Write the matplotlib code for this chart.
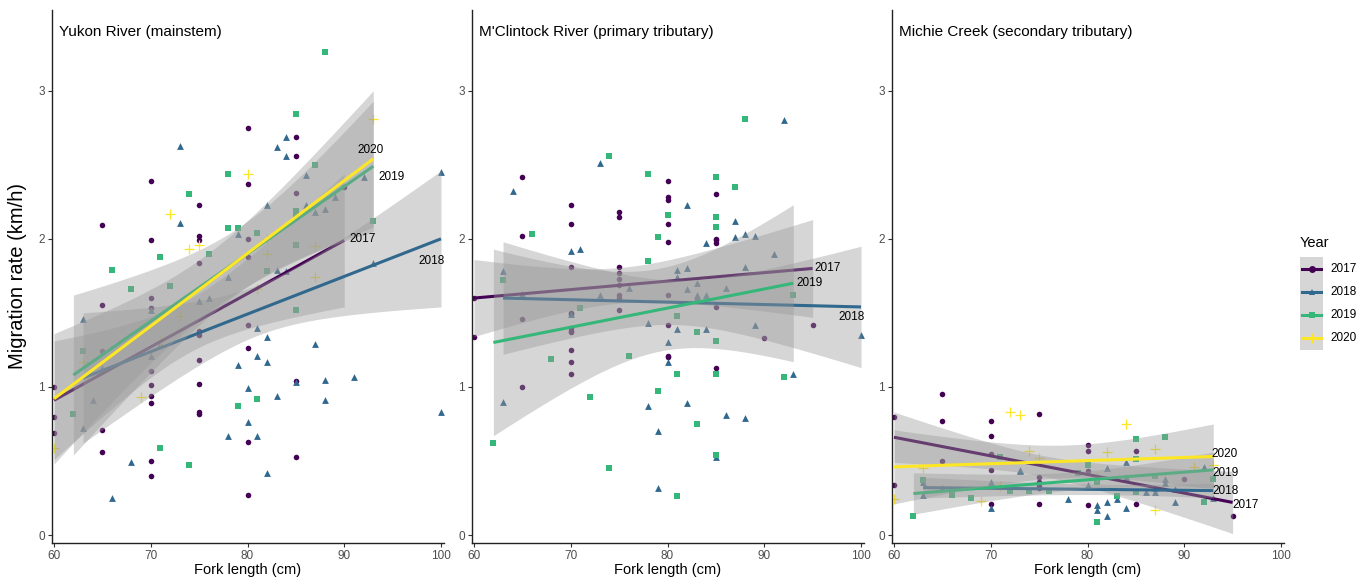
import numpy as np
import matplotlib
matplotlib.use("Agg")
import matplotlib.pyplot as plt

plt.rcParams['font.family'] = ['Liberation Sans', 'DejaVu Sans']

years = ["2017", "2018", "2019", "2020"]
colors = ["#440154", "#31688E", "#35B779", "#FDE725"]
markers = ["o", "^", "s", "+"]
panel_titles = ["Yukon River (mainstem)", "M'Clintock River (primary tributary)",
                "Michie Creek (secondary tributary)"]
x_ticks = [60, 70, 80, 90, 100]
y_ticks = [0, 1, 2, 3]

# ---------------- Yukon River ----------------
yukon_2017_x = [80, 85, 85, 70, 80, 90, 85, 75, 65, 70, 75, 75, 80, 75, 80, 65, 70, 70, 75, 75,
                80, 65, 80, 75, 70, 85, 60, 70, 75, 70, 70, 75, 75, 60, 65, 60, 80, 65, 85, 70, 70, 80]
yukon_2017_y = [2.75, 2.69, 2.56, 2.39, 2.37, 2.35, 2.31, 2.23, 2.09, 1.99, 2.02, 1.99, 2.00, 1.84, 1.88,
                1.55, 1.60, 1.53, 1.38, 1.35, 1.42, 1.24, 1.26, 1.18, 1.11, 1.04, 1.00, 1.01, 1.02, 0.94,
                0.89, 0.83, 0.82, 0.80, 0.71, 0.69, 0.63, 0.56, 0.53, 0.50, 0.40, 0.27]
yukon_2018_x = [73, 84, 83, 84, 86, 92, 82, 86, 89, 87, 88, 73, 79, 93, 100, 83, 84, 78, 75, 76,
                70, 63, 81, 82, 71, 70, 81, 82, 79, 87, 65, 91, 88, 85, 80, 64, 83, 88, 100, 80,
                63, 78, 81, 68, 82, 66]
yukon_2018_y = [2.63, 2.69, 2.62, 2.56, 2.43, 2.42, 2.23, 2.23, 2.28, 2.18, 2.20, 2.11, 2.03, 1.84, 2.45,
                1.79, 1.78, 1.74, 1.58, 1.60, 1.52, 1.46, 1.40, 1.34, 1.29, 1.21, 1.21, 1.17, 1.15, 1.29,
                1.13, 1.07, 1.05, 1.03, 0.99, 0.91, 0.94, 0.91, 0.83, 0.76, 0.72, 0.67, 0.67, 0.49, 0.42,
                0.25]
yukon_2019_x = [88, 85, 87, 78, 74, 85, 85, 93, 78, 79, 81, 76, 71, 85, 66, 82, 68, 72, 85, 63,
                81, 79, 62, 71, 74]
yukon_2019_y = [3.26, 2.84, 2.50, 2.44, 2.30, 2.19, 2.17, 2.12, 2.07, 2.07, 2.04, 1.90, 1.88, 1.96, 1.79,
                1.78, 1.66, 1.68, 1.52, 1.24, 0.92, 0.87, 0.82, 0.59, 0.47]
yukon_2020_x = [93, 80, 72, 75, 74, 82, 87, 82, 87, 81, 73, 71, 63, 69, 60]
yukon_2020_y = [2.81, 2.44, 2.17, 1.96, 1.93, 2.00, 1.95, 1.90, 1.74, 1.66, 1.48, 1.31, 1.17, 0.93, 0.59]

# ---------------- M'Clintock River ----------------
mcl_2017_x = [65, 80, 85, 80, 80, 70, 75, 75, 80, 70, 65, 80, 85, 85, 85, 70, 75, 75, 75, 75,
              60, 65, 75, 75, 75, 85, 70, 70, 65, 95, 60, 80, 80, 70, 70, 70, 90, 70, 80, 80,
              70, 85, 70, 65]
mcl_2017_y = [2.42, 2.39, 2.30, 2.28, 2.26, 2.23, 2.18, 2.15, 2.10, 2.10, 2.02, 1.98, 2.00, 1.99, 1.97,
              1.81, 1.81, 1.77, 1.73, 1.69, 1.60, 1.62, 1.62, 1.60, 1.52, 1.54, 1.50, 1.49, 1.46, 1.42,
              1.34, 1.42, 1.62, 1.40, 1.38, 1.37, 1.33, 1.25, 1.21, 1.20, 1.17, 1.13, 1.09, 1.00]
mcl_2018_x = [92, 73, 64, 82, 87, 88, 89, 87, 84, 70, 71, 91, 88, 81, 82, 81, 83, 63, 76, 82,
              86, 65, 73, 83, 83, 84, 70, 78, 89, 81, 84, 100, 80, 80, 93, 63, 78, 82, 86, 88,
              79, 85, 79]
mcl_2018_y = [2.80, 2.51, 2.32, 2.23, 2.12, 2.03, 2.02, 2.01, 1.97, 1.92, 1.93, 1.90, 1.81, 1.79, 1.80,
              1.74, 1.70, 1.78, 1.67, 1.66, 1.67, 1.63, 1.62, 1.62, 1.61, 1.62, 1.49, 1.43, 1.42, 1.39,
              1.39, 1.35, 1.30, 1.17, 1.09, 0.90, 0.87, 0.89, 0.81, 0.79, 0.70, 0.53, 0.32]
mcl_2019_x = [88, 74, 78, 85, 87, 80, 85, 85, 66, 79, 78, 63, 93, 71, 81, 83, 85, 68, 76, 81,
              85, 92, 79, 72, 83, 62, 85, 74, 81]
mcl_2019_y = [2.81, 2.56, 2.44, 2.42, 2.35, 2.16, 2.15, 2.08, 2.03, 2.01, 1.85, 1.72, 1.62, 1.53, 1.48,
              1.37, 1.31, 1.19, 1.21, 1.09, 1.09, 1.07, 0.97, 0.93, 0.75, 0.62, 0.54, 0.45, 0.26]

# ---------------- Michie Creek ----------------
mic_2017_x = [65, 60, 65, 70, 75, 70, 80, 80, 85, 70, 65, 70, 80, 75, 90, 60, 75, 75, 75, 75,
              70, 80, 85, 95]
mic_2017_y = [0.95, 0.80, 0.77, 0.77, 0.82, 0.67, 0.61, 0.57, 0.57, 0.55, 0.50, 0.44, 0.43, 0.39, 0.38,
              0.34, 0.36, 0.33, 0.32, 0.21, 0.21, 0.20, 0.21, 0.13]
mic_2018_x = [73, 73, 82, 84, 92, 88, 88, 84, 63, 70, 80, 65, 87, 87, 89, 86, 63, 83, 93, 78,
              82, 89, 70, 81, 81, 84, 82]
mic_2018_y = [0.44, 0.43, 0.45, 0.49, 0.46, 0.38, 0.35, 0.39, 0.36, 0.36, 0.34, 0.32, 0.32, 0.29, 0.31,
              0.29, 0.27, 0.24, 0.25, 0.24, 0.22, 0.22, 0.18, 0.20, 0.17, 0.18, 0.13]
mic_2019_x = [85, 88, 71, 85, 80, 79, 87, 93, 63, 81, 72, 74, 76, 85, 66, 83, 68, 92, 62, 81]
mic_2019_y = [0.65, 0.66, 0.53, 0.51, 0.47, 0.42, 0.40, 0.38, 0.37, 0.36, 0.30, 0.30, 0.30, 0.29, 0.27,
              0.26, 0.25, 0.22, 0.13, 0.09]
mic_2020_x = [72, 73, 84, 74, 82, 87, 75, 63, 91, 93, 81, 71, 60, 69, 87]
mic_2020_y = [0.83, 0.81, 0.75, 0.57, 0.56, 0.58, 0.52, 0.45, 0.46, 0.47, 0.40, 0.33, 0.24, 0.23, 0.17]

# ---------------- linear fits ----------------
# order: 2017, 2018, 2019, 2020 (None where a year is absent)
yukon_fit_x0 = [60, 63, 62, 60]
yukon_fit_x1 = [90, 100, 93, 93]
yukon_fit_y0 = [0.91, 1.06, 1.08, 0.92]
yukon_fit_y1 = [1.99, 2.00, 2.49, 2.54]
yukon_ci_start = [0.40, 0.44, 0.54, 0.44]
yukon_ci_min = [0.18, 0.17, 0.22, 0.20]
yukon_ci_end = [0.45, 0.46, 0.44, 0.46]

mcl_fit_x0 = [60, 63, 62, None]
mcl_fit_x1 = [95, 100, 93, None]
mcl_fit_y0 = [1.60, 1.60, 1.30, None]
mcl_fit_y1 = [1.80, 1.54, 1.70, None]
mcl_ci_start = [0.26, 0.38, 0.63, None]
mcl_ci_min = [0.12, 0.15, 0.28, None]
mcl_ci_end = [0.33, 0.41, 0.53, None]

mic_fit_x0 = [60, 63, 62, 60]
mic_fit_x1 = [95, 93, 93, 93]
mic_fit_y0 = [0.66, 0.32, 0.28, 0.46]
mic_fit_y1 = [0.22, 0.30, 0.44, 0.53]
mic_ci_start = [0.17, 0.07, 0.14, 0.25]
mic_ci_min = [0.07, 0.035, 0.06, 0.11]
mic_ci_end = [0.21, 0.05, 0.12, 0.22]

# label anchors (centre of the year text)
yukon_lab_x = [91.9, 99.0, 94.9, 92.7]
yukon_lab_y = [2.00, 1.85, 2.42, 2.60]
mcl_lab_x = [96.5, 99.0, 94.7, None]
mcl_lab_y = [1.80, 1.47, 1.70, None]
mic_lab_x = [96.3, 94.3, 94.3, 94.2]
mic_lab_y = [0.20, 0.30, 0.42, 0.55]

panels = [
    dict(title=panel_titles[0],
         pts=[(yukon_2017_x, yukon_2017_y), (yukon_2018_x, yukon_2018_y),
              (yukon_2019_x, yukon_2019_y), (yukon_2020_x, yukon_2020_y)],
         fit=(yukon_fit_x0, yukon_fit_x1, yukon_fit_y0, yukon_fit_y1,
              yukon_ci_start, yukon_ci_min, yukon_ci_end),
         lab=(yukon_lab_x, yukon_lab_y)),
    dict(title=panel_titles[1],
         pts=[(mcl_2017_x, mcl_2017_y), (mcl_2018_x, mcl_2018_y),
              (mcl_2019_x, mcl_2019_y), None],
         fit=(mcl_fit_x0, mcl_fit_x1, mcl_fit_y0, mcl_fit_y1,
              mcl_ci_start, mcl_ci_min, mcl_ci_end),
         lab=(mcl_lab_x, mcl_lab_y)),
    dict(title=panel_titles[2],
         pts=[(mic_2017_x, mic_2017_y), (mic_2018_x, mic_2018_y),
              (mic_2019_x, mic_2019_y), (mic_2020_x, mic_2020_y)],
         fit=(mic_fit_x0, mic_fit_x1, mic_fit_y0, mic_fit_y1,
              mic_ci_start, mic_ci_min, mic_ci_end),
         lab=(mic_lab_x, mic_lab_y)),
]

W, H = 1356, 578
fig = plt.figure(figsize=(W / 100, H / 100), dpi=100)
ax_left_px = [52, 472, 892]
ax_w_px = 392
ax_top_px, ax_bot_px = 10, 543

marker_size = {"o": 16, "^": 24, "s": 16, "+": 48}


def ci_curve(x0, x1, h0, a, h1, xs):
    r = np.sqrt(max(h0 ** 2 - a ** 2, 1e-9) / max(h1 ** 2 - a ** 2, 1e-9))
    xm = (x0 + r * x1) / (1 + r)
    b = np.sqrt(max(h1 ** 2 - a ** 2, 1e-9)) / (x1 - xm)
    return np.sqrt(a ** 2 + (b * (xs - xm)) ** 2)


for i, p in enumerate(panels):
    ax = fig.add_axes([ax_left_px[i] / W, 1 - ax_bot_px / H, ax_w_px / W,
                       (ax_bot_px - ax_top_px) / H])
    ax.set_xlim(59.79, 100.31)
    ax.set_ylim(-0.054, 3.545)
    for s in ["top", "right"]:
        ax.spines[s].set_visible(False)
    for s in ["left", "bottom"]:
        ax.spines[s].set_linewidth(1.0)
        ax.spines[s].set_color("#222222")
    ax.set_xticks(x_ticks)
    ax.set_yticks(y_ticks)
    ax.tick_params(axis="both", length=3, width=0.8, color="#333333",
                   labelsize=8.5, labelcolor="#4D4D4D", pad=2)
    ax.set_xlabel("Fork length (cm)", fontsize=10.5, labelpad=1)

    # points
    for k, d in enumerate(p["pts"]):
        if d is None:
            continue
        m = markers[k]
        if m == "+":
            ax.scatter(d[0], d[1], marker=m, s=marker_size[m], color=colors[k],
                       linewidths=0.9, zorder=2)
        else:
            ax.scatter(d[0], d[1], marker=m, s=marker_size[m], color=colors[k],
                       linewidths=0, zorder=2)

    # smooth fits: ribbon then line, by group
    fx0, fx1, fy0, fy1, c0, cm, c1 = p["fit"]
    z = 3
    for k in range(4):
        if fx0[k] is None:
            continue
        xs = np.linspace(fx0[k], fx1[k], 120)
        ys = fy0[k] + (fy1[k] - fy0[k]) * (xs - fx0[k]) / (fx1[k] - fx0[k])
        hw = ci_curve(fx0[k], fx1[k], c0[k], cm[k], c1[k], xs)
        ax.fill_between(xs, ys - hw, ys + hw, color="#999999", alpha=0.4,
                        linewidth=0, zorder=z)
        ax.plot(xs, ys, color=colors[k], lw=2.2, zorder=z + 0.5,
                solid_capstyle="butt")
        z += 1

    lx, ly = p["lab"]
    for k in range(4):
        if lx[k] is None:
            continue
        ax.text(lx[k], ly[k], years[k], fontsize=8.5, ha="center", va="center",
                color="black", zorder=20)

    ax.text(0.018, 0.959, p["title"], transform=ax.transAxes, fontsize=11,
            ha="left", va="center", color="black")

fig.text(18 / W, 1 - 276.5 / H, "Migration rate (km/h)", rotation=90,
         fontsize=14.5, ha="center", va="center")

# legend
fig.text(1300 / W, 1 - 243 / H, "Year", fontsize=10.5, ha="left", va="center")
lax = fig.add_axes([1300 / W, 1 - 350 / H, 23 / W, 93 / H])
lax.set_facecolor("#D6D6D6")
for s in lax.spines.values():
    s.set_visible(False)
lax.set_xticks([])
lax.set_yticks([])
lax.set_xlim(0, 1)
lax.set_ylim(0, 4)
for k in range(4):
    yk = 3.5 - k
    lax.plot([0.1, 0.9], [yk, yk], color=colors[k], lw=2.2)
    lax.plot([0.5], [yk], marker=markers[k], color=colors[k],
             markersize=5 if markers[k] != "+" else 7, markeredgewidth=1.0 if markers[k] == "+" else 0)
    fig.text(1330 / W, 1 - (269 + 23 * k) / H, years[k], fontsize=8.5,
             ha="left", va="center")

fig.savefig("out.png", dpi=100)
